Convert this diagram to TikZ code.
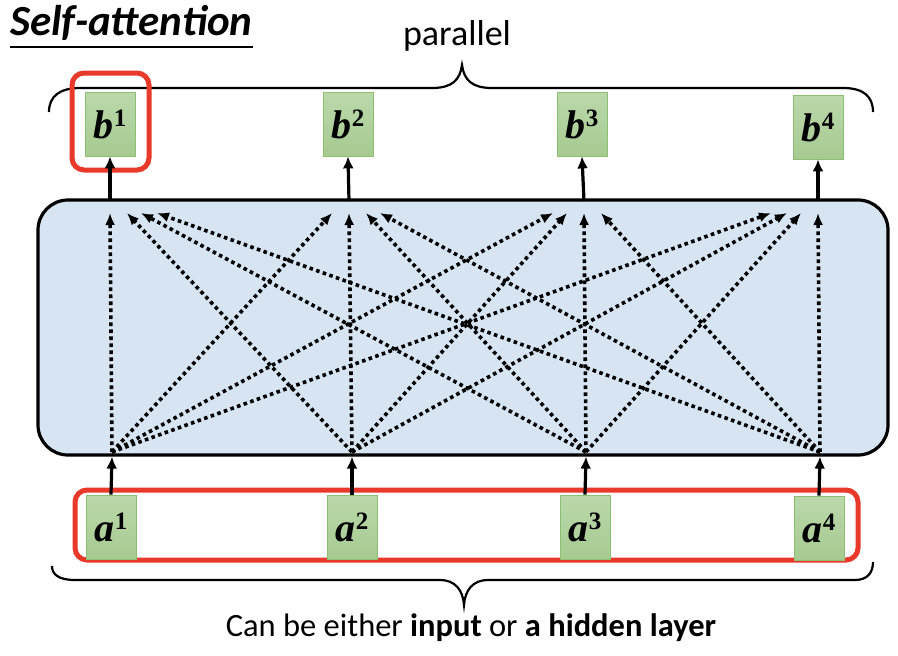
\documentclass[tikz,border=0pt]{standalone}
\usepackage{fontspec}
\setmainfont{Carlito}
\newfontfamily\lblfont{Liberation Serif}
\usetikzlibrary{arrows.meta,calc}
\definecolor{boxblue}{HTML}{D7E5F3}
\definecolor{hlred}{HTML}{E8392B}
\definecolor{gtop}{HTML}{BBD8AB}
\definecolor{gbot}{HTML}{A6CA90}
\definecolor{gborder}{HTML}{8CBF72}
\tikzset{
  vecbox/.style={draw=gborder, line width=0.8pt, top color=gtop, bottom color=gbot,
    minimum width=50pt, minimum height=64pt, inner sep=0pt},
  redframe/.style={draw=hlred, line width=5pt, rounded corners=12pt},
  solidarrow/.style={line width=3.2pt, -{Latex[length=12pt,width=11pt]}},
  dotarrow/.style={line width=3.6pt, dash pattern=on 3.6pt off 3.4pt, -{Latex[length=12pt,width=10pt]}},
  brace/.style={line width=2.2pt},
}
\newcommand{\vlab}[2]{{\lblfont\bfseries\fontsize{40}{40}\selectfont\textit{#1}\raisebox{12pt}{\fontsize{25}{25}\selectfont #2}}}
\begin{document}
\begin{tikzpicture}[x=1pt,y=-1pt]
\useasboundingbox (0,0) rectangle (898,656);
% title
\node[anchor=base west, inner sep=0pt, font=\fontsize{43}{46}\selectfont\bfseries\itshape] (title) at (10,35) {Self-attention};
\draw[line width=1.4pt] (title.base west |- 0,47) coordinate (ul1) -- (title.base east |- 0,47) coordinate (ul2);
% top brace
\draw[brace] (49,112) .. controls (49,96) and (60,88) .. (80,88) -- (432,88)
  .. controls (452,88) and (460,80) .. (462,65) coordinate (toppeak)
  .. controls (464,80) and (472,88) .. (492,88) -- (843,88)
  .. controls (863,88) and (873,96) .. (873,112);
\node[anchor=base, inner sep=0pt, font=\fontsize{36}{38}\selectfont] (par) at (457,45) {parallel};
% big attention box
\node[draw, line width=3.2pt, fill=boxblue, rounded corners=30pt, minimum width=850pt, minimum height=255pt] (sa) at (463,327.5) {};
% output boxes
\node[vecbox] (b1) at (110,124) {\vlab{b}{1}};
\node[vecbox] (b2) at (348,124) {\vlab{b}{2}};
\node[vecbox] (b3) at (582,124) {\vlab{b}{3}};
\node[vecbox] (b4) at (818,127) {\vlab{b}{4}};
\node[redframe, minimum width=77pt, minimum height=97pt] (hl1) at (110.5,121.5) {};
% input frame and boxes
\node[redframe, minimum width=783pt, minimum height=70pt] (hl2) at (466.5,525) {};
\node[vecbox] (a1) at (111,527) {\vlab{a}{1}};
\node[vecbox] (a2) at (352,527) {\vlab{a}{2}};
\node[vecbox] (a3) at (585,527) {\vlab{a}{3}};
\node[vecbox] (a4) at (819,528) {\vlab{a}{4}};
% coordinates for dotted connections
\foreach \k/\xx in {1/112,2/352,3/586,4/820}{
  \coordinate (s\k) at (\xx,452);
}
\foreach \k/\xx in {1/110,2/349,3/584,4/818}{
  \coordinate (t\k) at (\xx,213);
  \coordinate (o\k) at (\xx,201);
}
% input arrows
\foreach \k in {1,...,4}{
  \draw[solidarrow] (a\k.north) -- (s\k |- sa.south);
  \draw[solidarrow] (o\k) -- (b\k.south);
}
% dotted arrows
\foreach \i in {1,...,4}{
  \foreach \j in {1,...,4}{
    \pgfmathsetmacro\off{sign(\i-\j)*{0,17,31,47}[abs(\i-\j)]}
    \draw[dotarrow] (s\i) -- ($(t\j)+(\off,0)$);
  }
}
% bottom brace
\draw[brace] (52,566) .. controls (52,574) and (58,580) .. (75,580) -- (440,580)
  .. controls (455,580) and (463,590) .. (464,605) coordinate (botpeak)
  .. controls (465,590) and (473,580) .. (488,580) -- (855,580)
  .. controls (868,580) and (873,572) .. (873,562);
\node[anchor=base, inner sep=0pt, font=\fontsize{32.5}{34}\selectfont] (cap) at (471,636) {Can be either \textbf{input} or \textbf{a hidden layer}};
\end{tikzpicture}
\end{document}
